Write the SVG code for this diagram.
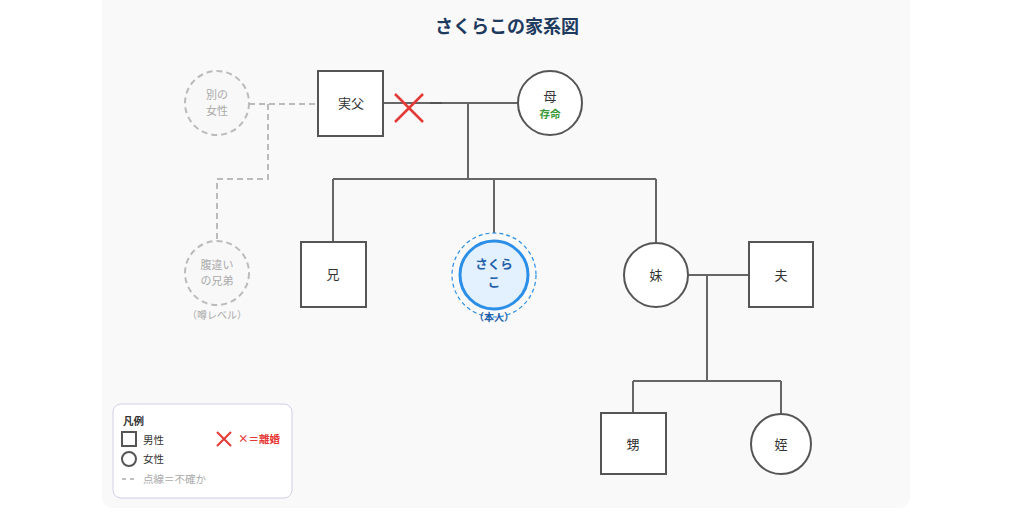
<svg xmlns="http://www.w3.org/2000/svg" width="1024" height="520" viewBox="0 0 1024 520">
<style>
text{font-family:"Noto Sans CJK JP","Noto Sans",sans-serif;text-anchor:middle;}
.sq{fill:#fff;stroke:#555;stroke-width:2;}
.ci{fill:#fff;stroke:#555;stroke-width:2;}
.dn{fill:#f8f8f8;stroke:#bbb;stroke-width:2;stroke-dasharray:6 4;}
.ln{fill:none;stroke:#666;stroke-width:2;}
.dl{fill:none;stroke:#bbb;stroke-width:2;stroke-dasharray:6 4;}
.lb{font-size:13px;fill:#333;}
.gl{font-size:11px;fill:#aaa;}
.x{stroke:#e53935;stroke-width:2.5;}
.lg{font-size:10.5px;text-anchor:start;}
</style>
<rect x="0" y="0" width="1024" height="520" fill="#fff"/>
<rect x="102" y="-10" width="808" height="518" rx="10" fill="#f9f9f9"/>
<text x="507" y="33" style="font-size:18px;font-weight:bold;fill:#1f3a5f">さくらこの家系図</text>

<g id="connectors">
  <path class="dl" d="M249 104 H318 M268 104 V179 H217 V241"/>
  <path class="ln" d="M383 103 H518"/>
  <path d="M430 103 H442" stroke="#555" stroke-width="2"/>
  <path class="ln" d="M468 103 V179 M333 179 H656 M333 179 V242 M494 179 V233 M656 179 V243"/>
  <path class="ln" d="M688 275 H749 M707 275 V381 M633 381 H781 M633 381 V413 M781 381 V414"/>
  <g id="divorce">
    <path class="x" d="M395 94 L423 122 M423 94 L395 122"/>
  </g>
</g>

<g id="other-woman">
  <circle class="dn" cx="217" cy="103" r="32"/>
  <text class="gl" x="217" y="99">別の</text>
  <text class="gl" x="217" y="115">女性</text>
</g>
<g id="father">
  <rect class="sq" x="318" y="71" width="65" height="65"/>
  <text class="lb" x="351" y="108">実父</text>
</g>
<g id="mother">
  <circle class="ci" cx="550" cy="103" r="32"/>
  <text class="lb" x="550" y="101">母</text>
  <text x="550" y="118" style="font-size:10.5px;font-weight:bold;fill:#3a9a3a">存命</text>
</g>
<g id="half-sibling">
  <circle class="dn" cx="217" cy="273" r="32"/>
  <text class="gl" x="217" y="269">腹違い</text>
  <text class="gl" x="217" y="285">の兄弟</text>
  <text x="217" y="319" style="font-size:10px;fill:#aaa">（噂レベル）</text>
</g>
<g id="brother">
  <rect class="sq" x="301" y="242" width="65" height="65"/>
  <text class="lb" x="333" y="279">兄</text>
</g>
<g id="sakurako">
  <circle cx="494" cy="275" r="42" fill="none" stroke="#2b8fe8" stroke-width="1.2" stroke-dasharray="4 3"/>
  <circle cx="494" cy="275" r="34" fill="#e3f0fd" stroke="#2b8fe8" stroke-width="3"/>
  <text x="494" y="269" style="font-size:12.5px;font-weight:bold;fill:#1e5fa8">さくら</text>
  <text x="494" y="287" style="font-size:12.5px;font-weight:bold;fill:#1e5fa8">こ</text>
  <text x="494" y="321" style="font-size:10px;font-weight:bold;fill:#1e5fa8">（本人）</text>
</g>
<g id="sister">
  <circle class="ci" cx="656" cy="275" r="32"/>
  <text class="lb" x="656" y="280">妹</text>
</g>
<g id="husband">
  <rect class="sq" x="749" y="242" width="64" height="65"/>
  <text class="lb" x="781" y="280">夫</text>
</g>
<g id="nephew">
  <rect class="sq" x="601" y="413" width="65" height="61"/>
  <text class="lb" x="633" y="449">甥</text>
</g>
<g id="niece">
  <circle class="ci" cx="781" cy="444" r="30"/>
  <text class="lb" x="781" y="449">姪</text>
</g>

<g id="legend">
  <rect x="113" y="404" width="179" height="94" rx="8" fill="#fff" stroke="#d0d0e8" stroke-width="1"/>
  <text x="123" y="425" style="font-size:10.5px;font-weight:bold;fill:#333;text-anchor:start">凡例</text>
  <rect x="122" y="432" width="14" height="14" fill="none" stroke="#555" stroke-width="2"/>
  <text class="lg" x="143" y="444" fill="#333">男性</text>
  <circle cx="129" cy="459" r="7" fill="none" stroke="#555" stroke-width="2"/>
  <text class="lg" x="143" y="463" fill="#333">女性</text>
  <path d="M122 479 H126 M130 479 H134" stroke="#aaa" stroke-width="1.5"/>
  <text class="lg" x="143" y="483" fill="#aaa">点線＝不確か</text>
  <path d="M217 432 L231 446 M231 432 L217 446" stroke="#e53935" stroke-width="2"/>
  <text class="lg" x="238" y="443" style="font-weight:bold" fill="#e53935">×＝離婚</text>
</g>
</svg>
